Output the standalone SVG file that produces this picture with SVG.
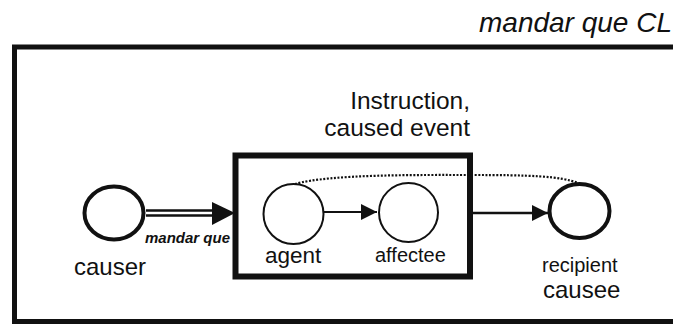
<svg xmlns="http://www.w3.org/2000/svg" width="673" height="324" viewBox="0 0 673 324">
<defs>
<style>
text{font-family:"Liberation Sans",Arial,sans-serif;fill:#111}
.thick{fill:none;stroke:#111;stroke-width:4}
.thin{fill:none;stroke:#111;stroke-width:2}
.lbl{font-size:24px}
.sm{font-size:20px}
</style>
<marker id="ah" viewBox="0 0 10 10" refX="10" refY="5" markerWidth="16" markerHeight="17" markerUnits="userSpaceOnUse" orient="auto"><path d="M0,0L10,5L0,10z" fill="#111"/></marker>
</defs>
<rect width="673" height="324" fill="#fff"/>
<text x="672" y="32" text-anchor="end" font-style="italic" font-size="28">mandar que CL</text>
<g id="frame">
<path d="M673,47H14.5V321.5H673" fill="none" stroke="#111" stroke-width="5"/>
</g>
<g id="event">
<rect x="235.5" y="155.5" width="234.5" height="121" fill="none" stroke="#111" stroke-width="6"/>
<text x="470" y="109" text-anchor="end" font-size="24.5">Instruction,</text>
<text x="470" y="136" text-anchor="end" font-size="24.5">caused event</text>
</g>
<g id="causer">
<ellipse cx="114" cy="213" rx="29.5" ry="26.5" class="thick"/>
<text x="74" y="275" class="lbl">causer</text>
</g>
<g id="agent">
<circle cx="293.5" cy="214" r="30" class="thin"/>
<text x="265" y="263" font-size="22.5">agent</text>
</g>
<g id="affectee">
<circle cx="408.5" cy="212.5" r="29.5" class="thin"/>
<text x="375" y="262" class="sm">affectee</text>
</g>
<g id="recipient">
<ellipse cx="579.5" cy="211" rx="30" ry="27" class="thick"/>
<text x="542" y="272" class="sm">recipient</text>
<text x="543" y="298" class="lbl">causee</text>
</g>
<g id="connectors">
<path d="M146,210.5H214M146,215.5H214" stroke="#111" stroke-width="2.5" fill="none"/>
<path d="M212,202L235,213L212,225z" fill="#111"/>
<text x="145" y="243" font-size="14.5" font-style="italic" font-weight="bold" textLength="85" lengthAdjust="spacingAndGlyphs">mandar que</text>
<path d="M324,212H377" class="thin" marker-end="url(#ah)"/>
<path d="M473,213H548" stroke="#111" stroke-width="2.5" fill="none" marker-end="url(#ah)"/>
<path d="M295,184C330,174 420,175 470,175C530,175 560,176 578,183" fill="none" stroke="#111" stroke-width="2.2" stroke-dasharray="2 1.6"/>
</g>
</svg>
